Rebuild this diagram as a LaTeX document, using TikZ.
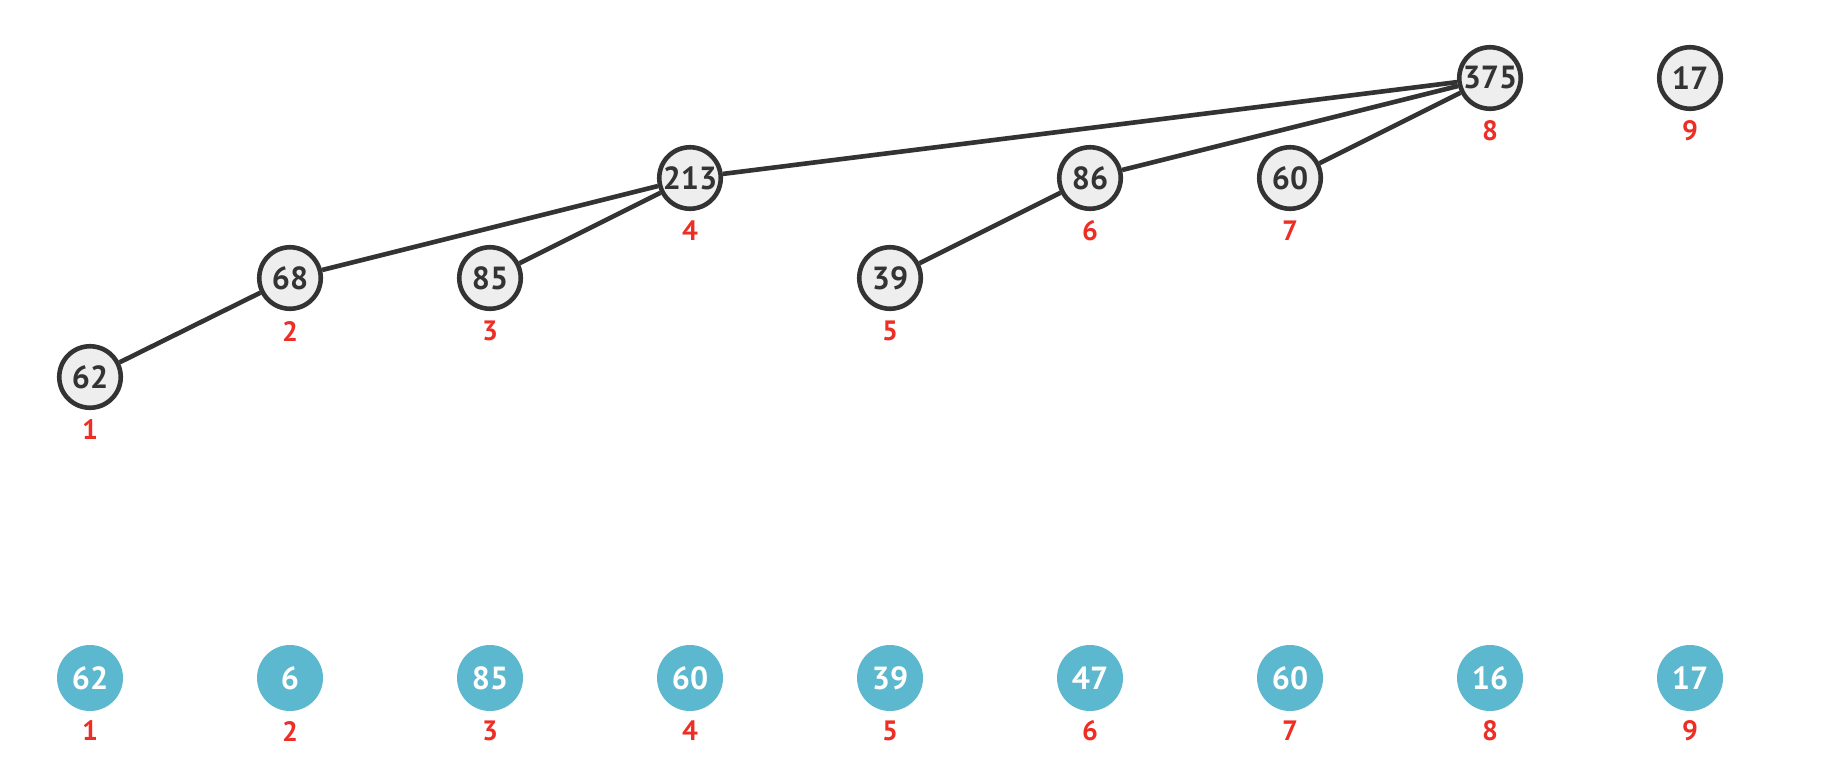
\documentclass[tikz,border=0pt]{standalone}
\usepackage{fontspec}
\setmainfont{PT Sans}
\definecolor{ink}{HTML}{333333}
\definecolor{nodefill}{HTML}{EEEEEE}
\definecolor{teal}{HTML}{5CB8CE}
\definecolor{idxred}{HTML}{EE2E24}
\begin{document}
\begin{tikzpicture}[x=1pt,y=-1pt,
  treenode/.style={circle,draw=ink,fill=nodefill,line width=4.6pt,minimum size=61.5pt,inner sep=0pt,text=ink,font=\fontsize{32}{32}\selectfont\bfseries},
  arrnode/.style={circle,fill=teal,minimum size=66pt,inner sep=0pt,text=white,font=\fontsize{32}{32}\selectfont\bfseries},
  idx/.style={text=idxred,inner sep=0pt,font=\fontsize{28}{28}\selectfont\bfseries},
  edge/.style={draw=ink,line width=4.6pt}]
\useasboundingbox (0,0) rectangle (1842,782);
% tree nodes
\node[treenode] (t1) at (90,377) {62};
\node[treenode] (t2) at (290,278) {68};
\node[treenode] (t3) at (490,278) {85};
\node[treenode] (t4) at (690,178) {213};
\node[treenode] (t5) at (890,278) {39};
\node[treenode] (t6) at (1090,178) {86};
\node[treenode] (t7) at (1290,178) {60};
\node[treenode] (t8) at (1490,78) {375};
\node[treenode] (t9) at (1690,78) {17};
% tree labels
\foreach \i/\y in {1/430,2/331,3/331,4/231,5/331,6/231,7/231,8/131,9/131}{
  \node[idx] (tl\i) at (90+200*\i-200,\y) {\i};
}
% edges
\draw[edge] (t1) -- (t2);
\draw[edge] (t2) -- (t4);
\draw[edge] (t3) -- (t4);
\draw[edge] (t4) -- (t8);
\draw[edge] (t5) -- (t6);
\draw[edge] (t6) -- (t8);
\draw[edge] (t7) -- (t8);
% array
\foreach \i/\v in {1/62,2/6,3/85,4/60,5/39,6/47,7/60,8/16,9/17}{
  \node[arrnode] (a\i) at (90+200*\i-200,678) {\v};
  \node[idx] (al\i) at (90+200*\i-200,731) {\i};
}
\end{tikzpicture}
\end{document}
